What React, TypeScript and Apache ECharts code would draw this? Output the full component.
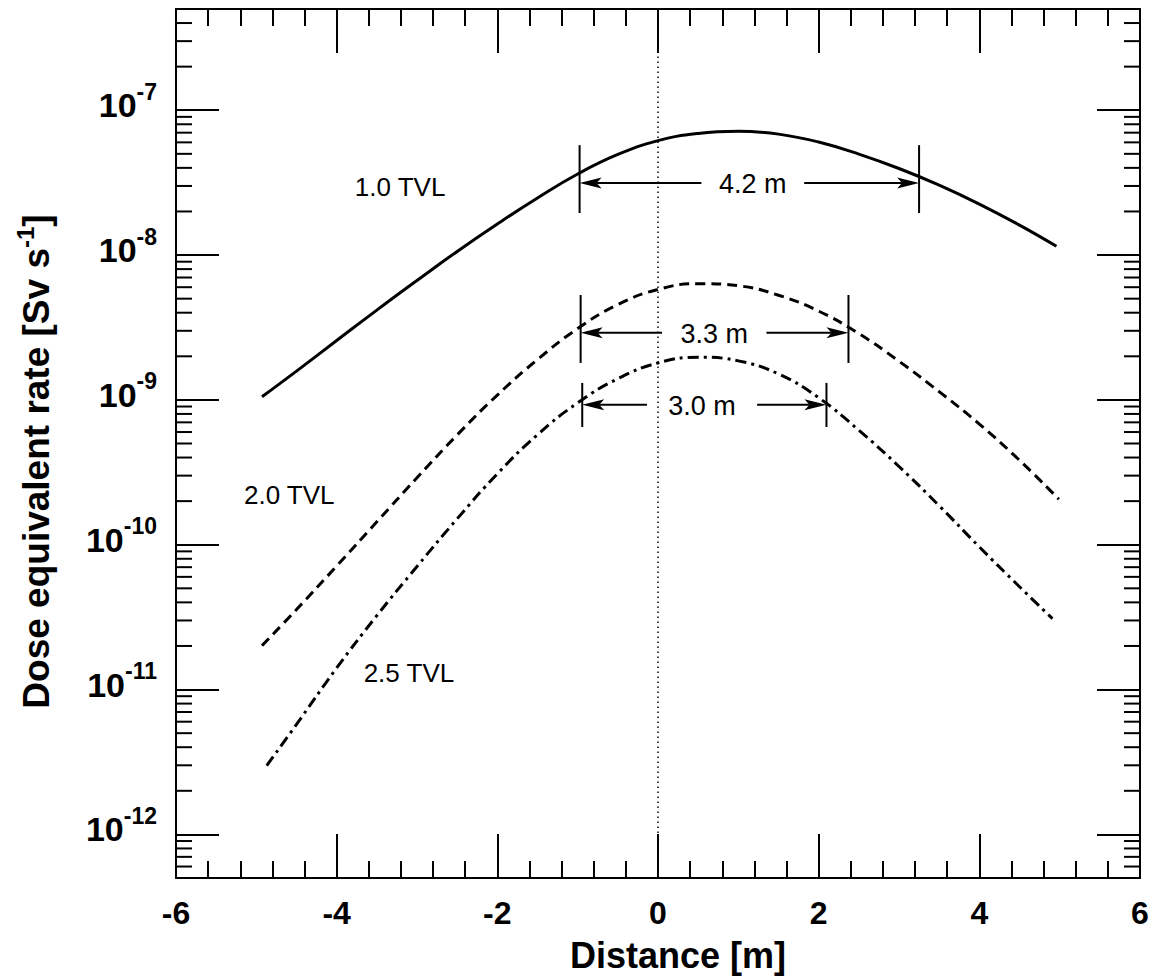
import React, { useEffect, useRef } from "react";
import * as echarts from "echarts";

const FONT = '"Liberation Sans", Arial, Helvetica, sans-serif';

// ---- data (distance in m, dose equivalent rate in Sv/s) ----
const distance10 = [-4.93, -4.5, -4, -3.5, -3, -2.5, -2, -1.5, -1, -0.5, 0, 0.5, 1, 1.5, 2, 2.5, 3, 3.5, 4, 4.5, 4.96];
const rate10 = [1.05e-9, 1.58e-9, 2.57e-9, 4.17e-9, 6.68e-9, 1.06e-8, 1.64e-8, 2.48e-8, 3.63e-8, 4.95e-8, 6.17e-8, 6.92e-8, 7.16e-8, 6.84e-8, 6.03e-8, 4.98e-8, 3.96e-8, 3.04e-8, 2.25e-8, 1.61e-8, 1.15e-8];

const distance20 = [-4.93, -4.5, -4, -3.5, -3, -2.5, -2, -1.5, -1, -0.5, 0, 0.5, 1, 1.5, 2, 2.5, 3, 3.5, 4, 4.5, 4.99];
const rate20 = [2.01e-11, 3.57e-11, 7.13e-11, 1.44e-10, 2.9e-10, 5.73e-10, 1.08e-9, 1.9e-9, 3.11e-9, 4.55e-9, 5.79e-9, 6.35e-9, 6.14e-9, 5.28e-9, 4.1e-9, 2.87e-9, 1.85e-9, 1.14e-9, 6.81e-10, 3.83e-10, 2.06e-10];

const distance25 = [-4.87, -4.5, -4, -3.5, -3, -2.5, -2, -1.5, -1, -0.5, 0, 0.5, 1, 1.5, 2, 2.5, 3, 3.5, 4, 4.5, 4.91];
const rate25 = [2.99e-12, 5.75e-12, 1.41e-11, 3.24e-11, 7.08e-11, 1.51e-10, 3.09e-10, 5.75e-10, 9.55e-10, 1.4e-9, 1.8e-9, 1.97e-9, 1.86e-9, 1.51e-9, 1.035e-9, 6.17e-10, 3.47e-10, 1.86e-10, 9.66e-11, 5.13e-11, 3.09e-11];

// curve labels
const tvlLabels = ["1.0 TVL", "2.0 TVL", "2.5 TVL"];
const tvlLabelX = [-3.21, -4.59, -3.1];
const tvlLabelY = [2.95e-8, 2.2e-10, 1.3e-11];

// width markers
const spanLabels = ["4.2 m", "3.3 m", "3.0 m"];
const spanLeft = [-0.976, -0.963, -0.943];
const spanRight = [3.25, 2.371, 2.097];
const spanArrowY = [3.14e-8, 2.91e-9, 9.25e-10];
const spanBarTop = [5.74e-8, 5.3e-9, 1.31e-9];
const spanBarBottom = [1.95e-8, 1.8e-9, 6.5e-10];
const spanGapLeft = [0.54, 0.05, -0.137];
const spanGapRight = [1.82, 1.35, 1.234];

// axis settings
const xMin = -6;
const xMax = 6;
const xStep = 2;
const yMin = 5e-13;
const yMax = 5e-7;
const minorMultipliers = [2, 3, 4, 5, 6, 7, 8, 9];
const minorDecades = [-13, -12, -11, -10, -9, -8, -7];

const minorTickValues: number[] = [];
minorDecades.forEach((d) =>
  minorMultipliers.forEach((m) => {
    const v = m * Math.pow(10, d);
    if (v > yMin * 1.0001 && v < yMax * 0.9999) minorTickValues.push(v);
  })
);

const BLACK = "#000";

function yLabel(v: number) {
  const e = Math.log10(v);
  const r = Math.round(e);
  if (Math.abs(e - r) > 0.01) return "";
  return `{b|10}{s|${r}}`;
}

function xAxisCfg(pos: "bottom" | "top", showLabel: boolean) {
  return {
    type: "value",
    position: pos,
    min: xMin,
    max: xMax,
    interval: xStep,
    axisLine: { show: true, onZero: false, lineStyle: { color: BLACK, width: 2 } },
    axisTick: { show: true, inside: true, length: 44, lineStyle: { color: BLACK, width: 2 } },
    minorTick: { show: true, splitNumber: 5, length: 17, lineStyle: { color: BLACK, width: 2 } },
    splitLine: { show: false },
    minorSplitLine: { show: false },
    axisLabel: {
      show: showLabel,
      margin: 19,
      fontSize: 32,
      fontWeight: "bold",
      fontFamily: FONT,
      color: BLACK,
    },
    ...(showLabel
      ? {
          name: "Distance [m]",
          nameLocation: "middle",
          nameGap: 59,
          nameTextStyle: { fontSize: 36, fontWeight: "bold", fontFamily: FONT, color: BLACK, padding: [0, 0, 0, 40] },
        }
      : {}),
  };
}

function yAxisCfg(pos: "left" | "right", showLabel: boolean) {
  return {
    type: "log",
    logBase: 10,
    position: pos,
    min: yMin,
    max: yMax,
    axisLine: { show: true, onZero: false, lineStyle: { color: BLACK, width: 2 } },
    axisTick: { show: true, inside: true, length: 43, lineStyle: { color: BLACK, width: 2 } },
    minorTick: { show: false },
    splitLine: { show: false },
    minorSplitLine: { show: false },
    axisLabel: {
      show: showLabel,
      margin: 19,
      formatter: yLabel,
      padding: [0, 0, 10, 0],
      rich: {
        b: { fontSize: 34, fontWeight: "bold", fontFamily: FONT, color: BLACK, lineHeight: 34, verticalAlign: "bottom" },
        s: { fontSize: 23, fontWeight: "bold", fontFamily: FONT, color: BLACK, lineHeight: 22, verticalAlign: "bottom", padding: [0, 0, 19, 0] },
      },
    },
    ...(showLabel
      ? {
          name: "{t|Dose equivalent rate [Sv s}{sup|-1}{t|]}",
          nameLocation: "middle",
          nameGap: 121,
          nameRotate: 90,
          nameTextStyle: {
            fontSize: 37,
            fontWeight: "bold",
            fontFamily: FONT,
            color: BLACK,
            padding: [0, 36, 0, 0],
            rich: {
              t: { fontSize: 37, fontWeight: "bold", fontFamily: FONT, color: BLACK, lineHeight: 40, verticalAlign: "bottom" },
              sup: { fontSize: 24, fontWeight: "bold", fontFamily: FONT, color: BLACK, lineHeight: 24, verticalAlign: "bottom", padding: [0, 0, 18, 0] },
            },
          },
        }
      : {}),
  };
}

export default function App() {
  const ref = useRef<HTMLDivElement>(null);

  useEffect(() => {
    if (!ref.current) return;
    const chart = echarts.init(ref.current, null, { renderer: "svg" });

    const option: any = {
      animation: false,
      backgroundColor: "#fff",
      grid: { left: 176, right: 13, top: 9, bottom: 99, containLabel: false, outerBoundsMode: "none" },
      xAxis: [xAxisCfg("bottom", true), xAxisCfg("top", false)],
      yAxis: [yAxisCfg("left", true), yAxisCfg("right", false)],
      series: [
        {
          name: "1.0 TVL",
          type: "line",
          xAxisIndex: 0,
          yAxisIndex: 0,
          data: distance10.map((x, i) => [x, rate10[i]]),
          smooth: 0.45,
          symbol: "none",
          lineStyle: { color: BLACK, width: 3, type: "solid" },
          markLine: {
            silent: true,
            symbol: ["none", "none"],
            label: { show: false },
            lineStyle: { color: BLACK, width: 1.5, type: [1.5, 3.5] },
            data: [{ xAxis: 0 }],
          },
          z: 3,
        },
        {
          name: "2.0 TVL",
          type: "line",
          data: distance20.map((x, i) => [x, rate20[i]]),
          smooth: 0.45,
          symbol: "none",
          lineStyle: { color: BLACK, width: 3, type: [10, 6] },
          z: 3,
        },
        {
          name: "2.5 TVL",
          type: "line",
          data: distance25.map((x, i) => [x, rate25[i]]),
          smooth: 0.45,
          symbol: "none",
          lineStyle: { color: BLACK, width: 3, type: [11, 5, 3, 5] },
          z: 3,
        },
        {
          name: "minorTicks",
          type: "custom",
          silent: true,
          data: minorTickValues.map((v) => [0, v]),
          encode: { x: 0, y: 1 },
          renderItem: (params: any, api: any) => {
            const y = api.coord([0, api.value(1)])[1];
            const cs = params.coordSys;
            return {
              type: "group",
              children: [
                { type: "line", shape: { x1: cs.x, y1: y, x2: cs.x + 16, y2: y }, style: { stroke: BLACK, lineWidth: 2 } },
                { type: "line", shape: { x1: cs.x + cs.width - 16, y1: y, x2: cs.x + cs.width, y2: y }, style: { stroke: BLACK, lineWidth: 2 } },
              ],
            };
          },
          z: 4,
        },
        {
          name: "spans",
          type: "custom",
          silent: true,
          data: spanLeft.map((l, i) => [l, spanRight[i], spanArrowY[i], spanBarTop[i], spanBarBottom[i], spanGapLeft[i], spanGapRight[i]]),
          encode: { x: [0, 1], y: [2] },
          renderItem: (params: any, api: any) => {
            const i = params.dataIndex;
            const [xl, ya] = api.coord([api.value(0), api.value(2)]);
            const xr = api.coord([api.value(1), api.value(2)])[0];
            const yt = api.coord([api.value(0), api.value(3)])[1];
            const yb = api.coord([api.value(0), api.value(4)])[1];
            const gl = api.coord([api.value(5), api.value(2)])[0];
            const gr = api.coord([api.value(6), api.value(2)])[0];
            const L = 22;
            const W = 5.5;
            const N = 17;
            const st = { stroke: BLACK, lineWidth: 2 };
            return {
              type: "group",
              children: [
                { type: "line", shape: { x1: xl, y1: yt, x2: xl, y2: yb }, style: st },
                { type: "line", shape: { x1: xr, y1: yt, x2: xr, y2: yb }, style: st },
                { type: "line", shape: { x1: xl + N, y1: ya, x2: gl, y2: ya }, style: st },
                { type: "line", shape: { x1: gr, y1: ya, x2: xr - N, y2: ya }, style: st },
                { type: "polygon", shape: { points: [[xl, ya], [xl + L, ya - W], [xl + N, ya], [xl + L, ya + W]] }, style: { fill: BLACK } },
                { type: "polygon", shape: { points: [[xr, ya], [xr - L, ya - W], [xr - N, ya], [xr - L, ya + W]] }, style: { fill: BLACK } },
                {
                  type: "text",
                  style: {
                    text: spanLabels[i],
                    x: (gl + gr) / 2,
                    y: ya + 1,
                    align: "center",
                    verticalAlign: "middle",
                    fontSize: 27,
                    fontFamily: FONT,
                    fill: BLACK,
                  },
                },
              ],
            };
          },
          z: 5,
        },
        {
          name: "tvlLabels",
          type: "custom",
          silent: true,
          data: tvlLabelX.map((x, i) => [x, tvlLabelY[i]]),
          encode: { x: 0, y: 1 },
          renderItem: (params: any, api: any) => {
            const p = api.coord([api.value(0), api.value(1)]);
            return {
              type: "text",
              style: {
                text: tvlLabels[params.dataIndex],
                x: p[0],
                y: p[1],
                align: "center",
                verticalAlign: "middle",
                fontSize: 26,
                fontFamily: FONT,
                fill: BLACK,
              },
            };
          },
          z: 5,
        },
      ],
    };

    chart.setOption(option);
    return () => {
      chart.dispose();
    };
  }, []);

  return (
    <div
      ref={ref}
      style={{ position: "absolute", left: 0, top: 0, width: 1153, height: 977, background: "#fff" }}
    />
  );
}
